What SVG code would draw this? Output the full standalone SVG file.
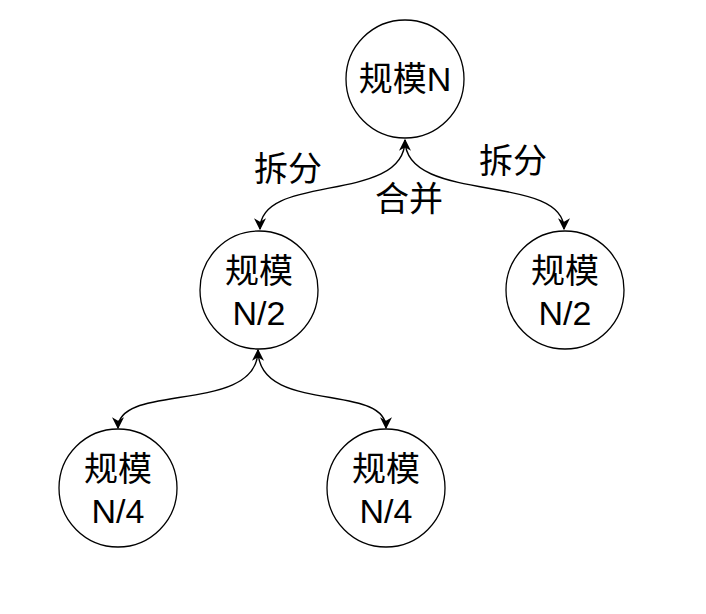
<svg xmlns="http://www.w3.org/2000/svg" width="706" height="614" viewBox="0 0 706 614">
<style>
.n{fill:#fff;stroke:#000;stroke-width:1.3}
.t{font-family:"Liberation Sans","Noto Sans CJK SC",sans-serif;font-size:34px;fill:#000;text-anchor:middle;dominant-baseline:central}
.e{fill:none;stroke:#000;stroke-width:1.4}
</style>
<defs>
<marker id="a" viewBox="0 0 10 10" refX="9" refY="5" markerWidth="12" markerHeight="12" markerUnits="userSpaceOnUse" orient="auto-start-reverse">
<path d="M0,0 L10,5 L0,10 L3,5 Z" fill="#000"/>
</marker>
</defs>
<g id="connectors">
<path class="e" d="M405,140 C405,205 260,172 260,229" marker-start="url(#a)" marker-end="url(#a)"/>
<path class="e" d="M405,140 C405,205 564,172 564,229" marker-end="url(#a)"/>
<path class="e" d="M258,350 C258,415 118,382 118,428" marker-start="url(#a)" marker-end="url(#a)"/>
<path class="e" d="M258,350 C258,415 386,382 386,428" marker-end="url(#a)"/>
</g>
<g id="n1"><circle class="n" cx="405" cy="79" r="59"/><text class="t" x="405" y="79">规模N</text></g>
<g id="n2"><circle class="n" cx="259" cy="290" r="59"/><text class="t" x="259" y="271">规模</text><text class="t" x="259" y="313">N/2</text></g>
<g id="n3"><circle class="n" cx="565" cy="290" r="59"/><text class="t" x="565" y="271">规模</text><text class="t" x="565" y="313">N/2</text></g>
<g id="n4"><circle class="n" cx="118" cy="488" r="59"/><text class="t" x="118" y="469">规模</text><text class="t" x="118" y="511">N/4</text></g>
<g id="n5"><circle class="n" cx="386" cy="488" r="59"/><text class="t" x="386" y="469">规模</text><text class="t" x="386" y="511">N/4</text></g>
<g id="labels">
<text class="t" x="288" y="169">拆分</text>
<text class="t" x="513" y="161">拆分</text>
<text class="t" x="409" y="199">合并</text>
</g>
</svg>
